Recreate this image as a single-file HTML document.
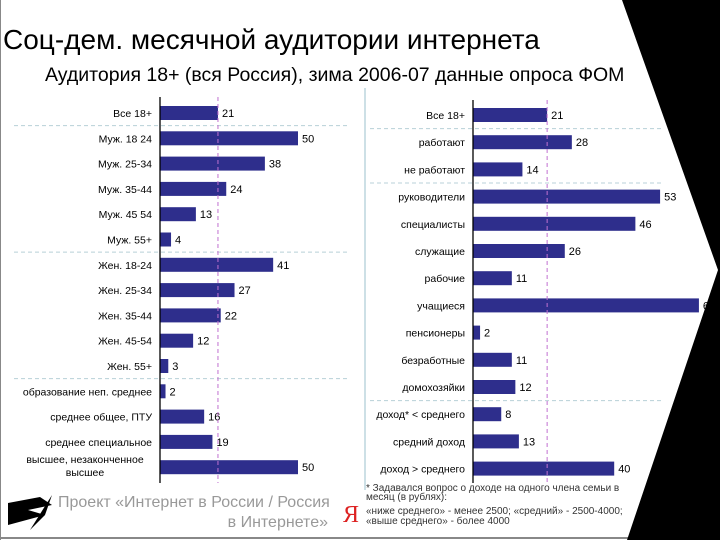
<!DOCTYPE html>
<html><head><meta charset="utf-8"><style>
body{margin:0;background:#fff}
svg{display:block;font-family:"Liberation Sans","DejaVu Sans",sans-serif}
</style></head><body>
<svg id="c" width="720" height="540" viewBox="0 0 720 540">
<rect x="0" y="0" width="720" height="540" fill="#fff"/>
<line x1="0.5" y1="0" x2="0.5" y2="540" stroke="#888"/>
<line x1="0" y1="538" x2="640" y2="538" stroke="#888" stroke-width="2"/>
<polygon points="622,0 720,0 720,540 627,540 718,270" fill="#000"/>
<text x="3" y="49" font-size="28" fill="#000">Соц-дем. месячной аудитории интернета</text>
<text x="45" y="81" font-size="19.5" fill="#000">Аудитория 18+ (вся Россия), зима 2006-07 данные опроса ФОМ</text>
<line x1="365" y1="88" x2="365" y2="490" stroke="#cde0e6" stroke-width="2"/>
<g id="left"></g>
<g id="right"></g>
<g>
<path d="M8,503 L40,497 L52,505 L28,510 L45,515 L8,525 Z" fill="#000"/>
<path d="M30,530 L52,495 L45,515 Z" fill="#000"/>
</g>
<text x="58" y="507" font-size="16" fill="#999">Проект «Интернет в России / Россия</text>
<text x="328" y="527" font-size="16" fill="#999" text-anchor="end">в Интернете»</text>
<text x="343" y="522" font-size="24" fill="#d22" font-family="Liberation Serif,serif">Я</text>
<text x="366" y="491" font-size="10" fill="#333">* Задавался вопрос о доходе на одного члена семьи в</text>
<text x="366" y="500" font-size="10" fill="#333">месяц (в рублях):</text>
<text x="366" y="514" font-size="10" fill="#333">«ниже среднего» - менее 2500; «средний» - 2500-4000;</text>
<text x="366" y="524" font-size="10" fill="#333">«выше среднего» - более 4000</text>
</svg>
<script>
const leftCategories=["Все 18+","Муж. 18 24","Муж. 25-34","Муж. 35-44","Муж. 45 54","Муж. 55+","Жен. 18-24","Жен. 25-34","Жен. 35-44","Жен. 45-54","Жен. 55+","образование неп. среднее","среднее общее, ПТУ","среднее специальное","высшее, незаконченное|высшее"];
const leftValues=[21,50,38,24,13,4,41,27,22,12,3,2,16,19,50];
const rightCategories=["Все 18+","работают","не работают","руководители","специалисты","служащие","рабочие","учащиеся","пенсионеры","безработные","домохозяйки","доход* < среднего","средний доход","доход > среднего"];
const rightValues=[21,28,14,53,46,26,11,64,2,11,12,8,13,40];
const avgValue=21;
const NS="http://www.w3.org/2000/svg";
function mk(tag,attrs,parent){const e=document.createElementNS(NS,tag);for(const k in attrs)e.setAttribute(k,attrs[k]);parent.appendChild(e);return e;}
function draw(gid,cats,vals,x0,scale,y0,step,top,bottom,seps,sepX1,sepX2){
  const g=document.getElementById(gid);
  const xs=v=>x0+v*scale;
  const ys=i=>y0+i*step;
  seps.forEach(s=>{const l=mk('line',{x1:sepX1,x2:sepX2,y1:ys(s)-step/2,y2:ys(s)-step/2,stroke:'#b8d0d8','stroke-dasharray':'4,3'},g);
    
    });
  cats.forEach((c,i)=>{
    const y=ys(i);
    const r=mk('rect',{x:x0,y:y-7,width:vals[i]*scale,height:14,fill:'#2e2e8c'},g);
    
    
    const v=mk('text',{x:xs(vals[i])+4,y:y+4,'font-size':11,fill:'#000'},g);v.textContent=vals[i];
    
    
    const parts=c.split('|');
    parts.forEach((p,k)=>{const t=mk('text',{x:parts.length>1?x0-75:x0-8,y:y+4+(parts.length>1?(k*13-8):0),'font-size':10.5,'text-anchor':parts.length>1?'middle':'end',fill:'#000'},g);t.textContent=p;
      
      });
  });
  const ax=mk('line',{x1:x0,x2:x0,y1:top,y2:bottom,stroke:'#000','stroke-width':1.3},g);
  
  
  const av=mk('line',{x1:xs(avgValue),x2:xs(avgValue),y1:top,y2:bottom,stroke:'#c070d0','stroke-dasharray':'4,3'},g);
  
  
}
draw('left',leftCategories,leftValues,160,2.76,113,25.3,97,483,[1,6,11],14,348);
draw('right',rightCategories,rightValues,473,3.53,115,27.2,100,483,[1,3,11],370,662);
</script>
</body></html>
